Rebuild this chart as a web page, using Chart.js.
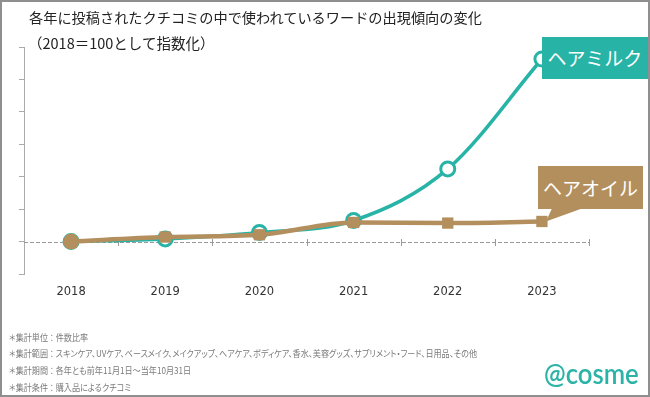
<!DOCTYPE html>
<html><head><meta charset="utf-8">
<script src="https://cdn.jsdelivr.net/npm/chart.js@4/dist/chart.umd.min.js"></script>
<style>
html,body{margin:0;padding:0;background:#fff;}
#wrap{position:absolute;left:0;top:0;width:650px;height:397px;overflow:hidden;background:#fff;}
#c{position:absolute;left:0;top:0;}
#frame{position:absolute;left:0;top:0;width:650px;height:397px;box-sizing:border-box;border:2px solid #8f8f8f;pointer-events:none;}
.t{position:absolute;white-space:nowrap;font-family:"Noto Sans CJK JP","Noto Sans",sans-serif;}
#title{left:29px;top:6px;font-size:14.2px;color:#222;line-height:22px;}
#sub{left:28px;top:32px;font-size:14.5px;color:#222;line-height:22px;}
.note{left:9px;font-size:9px;color:#7a7a7a;line-height:12px;font-feature-settings:"palt";transform:scaleX(0.9);transform-origin:left top;}
#logo{left:544px;top:356px;font-family:"Lato","Open Sans",sans-serif;font-size:25px;color:#2ab3a6;font-weight:600;line-height:30px;transform:scale(1.03,1.12);transform-origin:left top;}
.box{position:absolute;color:#fff;font-family:"Noto Sans CJK JP",sans-serif;font-size:19px;text-align:center;white-space:nowrap;}
</style></head>
<body>
<div id="wrap">
<canvas id="c" width="650" height="397"></canvas>
<div class="t" id="title">各年に投稿されたクチコミの中で使われているワードの出現傾向の変化</div>
<div class="t" id="sub">（2018＝100として指数化）</div>
<div class="t note" style="top:332px">＊集計単位 ： 件数比率</div>
<div class="t note" style="top:348px">＊集計範囲 ： スキンケア、UVケア、ベースメイク、メイクアップ、ヘアケア、ボディケア、香水、美容グッズ、サプリメント・フード、日用品、その他</div>
<div class="t note" style="top:365px">＊集計期間 ： 各年とも前年11月1日～当年10月31日</div>
<div class="t note" style="top:382px">＊集計条件 ： 購入品によるクチコミ</div>
<div class="t" id="logo">@cosme</div>
<div class="box" id="milkBox"></div>
<div class="box" id="oilBox"></div>
<div id="frame"></div>
</div>
<script>
const years = ['2018','2019','2020','2021','2022','2023'];
const hairMilk = [100, 108, 128, 165, 324, 663];
const hairOil = [100, 114, 121, 159, 157, 162];
const seriesNames = ['ヘアミルク','ヘアオイル'];
const baseValue = 100;
const yMin = 0, yMax = 700, yStep = 100;

const TEAL = '#27b4a7';
const TAN = '#b38f5e';

const baselinePlugin = {
  id: 'baseline',
  beforeDatasetsDraw(chart) {
    const {ctx, chartArea, scales} = chart;
    const y = Math.round(scales.y.getPixelForValue(baseValue));
    ctx.save();
    ctx.strokeStyle = '#9a9a9a';
    ctx.lineWidth = 1;
    ctx.setLineDash([4, 2]);
    ctx.beginPath();
    ctx.moveTo(chartArea.left, y + 0.5);
    ctx.lineTo(chartArea.right, y + 0.5);
    ctx.stroke();
    ctx.setLineDash([]);
    const n = years.length;
    for (let i = 0; i < n; i++) {
      let x;
      if (i < n - 1) x = (scales.x.getPixelForValue(i) + scales.x.getPixelForValue(i + 1)) / 2;
      else x = chartArea.right;
      x = Math.round(x) + 0.5;
      ctx.beginPath();
      ctx.moveTo(x, y - 3);
      ctx.lineTo(x, y + 4);
      ctx.stroke();
    }
    ctx.restore();
  },
  afterDraw(chart) {
    const {ctx, scales} = chart;
    const last = years.length - 1;
    const xm = scales.x.getPixelForValue(last);
    const ym = scales.y.getPixelForValue(hairMilk[last]);
    const yo = scales.y.getPixelForValue(hairOil[last]);
    const mb = document.getElementById('milkBox');
    mb.textContent = seriesNames[0];
    Object.assign(mb.style, {left: (xm) + 'px', top: (ym - 22) + 'px', width: '106px', height: '42px', lineHeight: '42px', background: TEAL});
    const ob = document.getElementById('oilBox');
    ob.textContent = seriesNames[1];
    Object.assign(ob.style, {left: (xm - 4) + 'px', top: (yo - 55) + 'px', width: '105px', height: '43px', lineHeight: '43px', background: TAN});
    ctx.save();
    ctx.fillStyle = TAN;
    ctx.beginPath();
    ctx.moveTo(xm + 10, yo - 13);
    ctx.lineTo(xm + 40, yo - 13);
    ctx.lineTo(xm + 4, yo);
    ctx.closePath();
    ctx.fill();
    ctx.restore();
  }
};

new Chart(document.getElementById('c'), {
  type: 'line',
  data: {
    labels: years,
    datasets: [
      {
        label: seriesNames[0], data: hairMilk,
        borderColor: TEAL, backgroundColor: '#fff', borderWidth: 3.5,
        pointRadius: 7, pointBorderWidth: 3, pointBorderColor: TEAL, pointBackgroundColor: '#fff',
        tension: 0.4, cubicInterpolationMode: 'monotone', order: 2
      },
      {
        label: seriesNames[1], data: hairOil,
        borderColor: TAN, backgroundColor: TAN, borderWidth: 4.5,
        pointStyle: ['circle','rect','rect','rect','rect','rect'],
        pointRadius: [8,8,8,8,8,8], pointBorderWidth: 0, pointBackgroundColor: TAN,
        tension: 0.3, cubicInterpolationMode: 'monotone', order: 1
      }
    ]
  },
  options: {
    responsive: false, animation: false, devicePixelRatio: 1,
    layout: {padding: {left: 19, right: 61, top: 47, bottom: 97}},
    plugins: {legend: {display: false}, tooltip: {enabled: false}},
    scales: {
      x: {
        offset: true,
        grid: {display: false, drawTicks: false},
        border: {display: false},
        ticks: {padding: 11, color: '#333', font: {family: 'DejaVu Sans', size: 11.5}},
        afterFit(scale) { scale.height = 26; }
      },
      y: {
        min: yMin, max: yMax,
        ticks: {display: false, stepSize: yStep},
        grid: {drawOnChartArea: false, drawTicks: true, tickLength: 5, tickColor: '#aaa'},
        border: {display: true, color: '#aaa', width: 1},
        afterFit(scale) { scale.width = 5; }
      }
    }
  },
  plugins: [baselinePlugin]
});
</script>
</body></html>
